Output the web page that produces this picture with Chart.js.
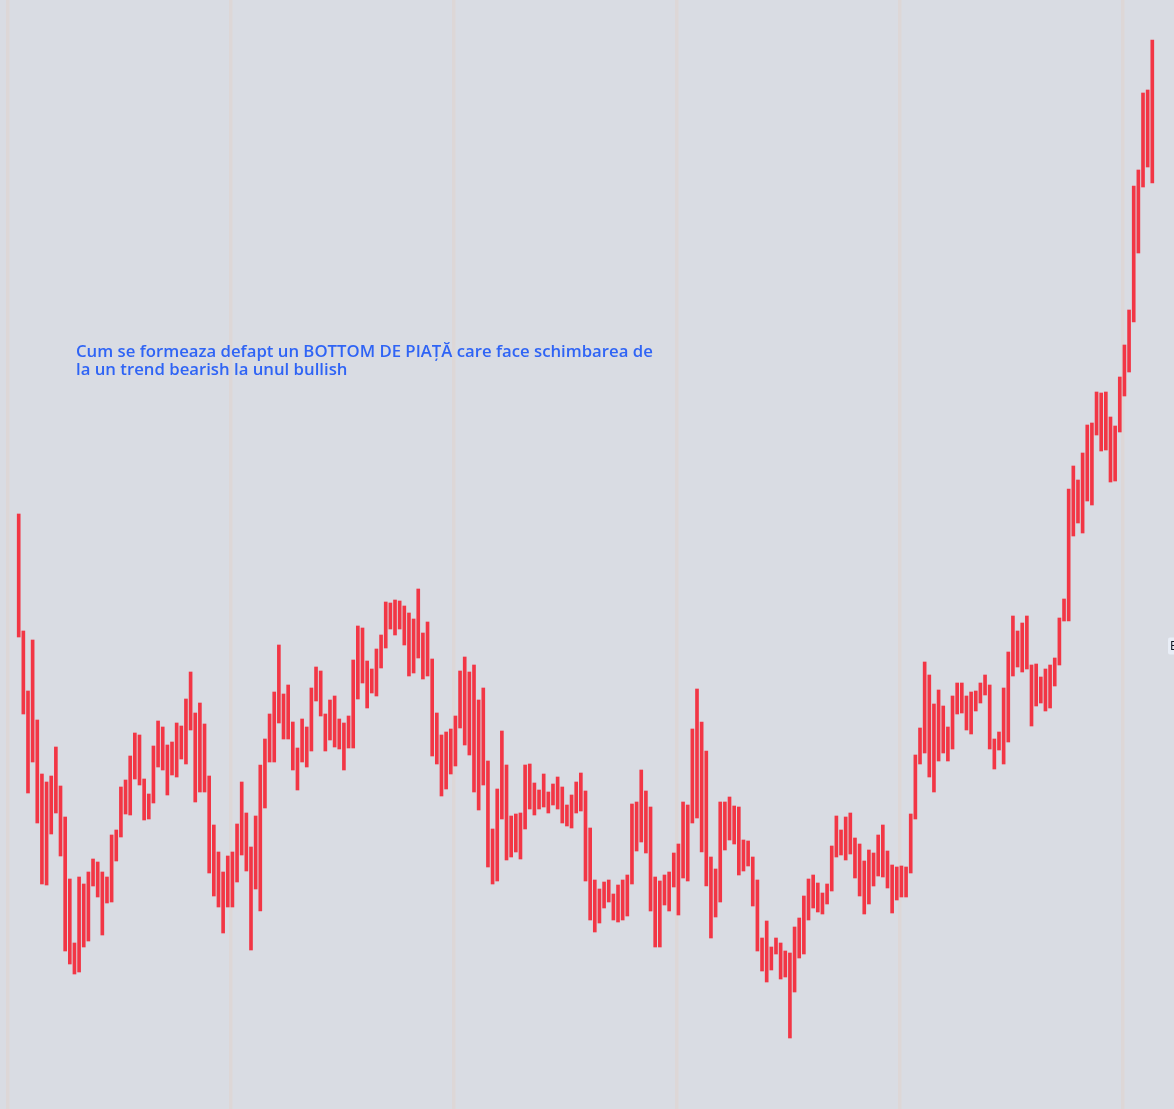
<!DOCTYPE html>
<html>
<head>
<meta charset="utf-8">
<script src="https://cdn.jsdelivr.net/npm/chart.js@4.4.1/dist/chart.umd.min.js"></script>
<style>
html, body { margin: 0; padding: 0; background: #d9dce3; overflow: hidden; }
#wrap { width: 1174px; height: 1109px; position: relative; }
</style>
</head>
<body>
<div id="wrap"><canvas id="c" width="1174" height="1109"></canvas></div>
<script>
// Bar highs and lows (price units)
const highs = [595,478,418,469,389,335,327,333,362,323,292,230,166,232,225,237,250,247,237,232,
274,279,322,329,353,376,374,330,315,363,388,382,364,367,386,383,410,437,396,406,
385,333,284,257,237,253,257,285,327,296,262,293,344,370,395,417,464,415,424,387,
361,390,382,421,442,438,395,409,413,390,386,393,449,483,481,448,440,460,474,507,
506,509,508,503,496,490,520,476,487,450,396,374,377,380,393,438,452,437,444,409,
421,348,280,320,378,344,293,295,296,344,345,326,319,335,317,325,332,322,304,314,
327,336,318,281,229,220,227,229,215,224,229,234,305,307,339,318,302,232,228,234,
237,256,265,307,304,380,420,387,358,252,240,307,307,312,303,302,269,268,252,229,
171,188,162,171,166,158,156,182,191,213,230,234,226,216,225,263,293,279,292,296,
271,265,248,259,256,274,284,258,244,242,243,242,295,354,381,447,434,405,419,403,
382,413,426,426,413,417,418,426,434,424,370,377,421,457,493,478,486,493,444,445,
432,440,444,451,491,510,620,643,629,656,684,686,717,716,717,692,683,732,764,799,
923,939,1016,1019,1069];
const lows = [472,395,316,347,286,225,224,275,296,253,158,145,135,137,162,168,223,212,174,206,
207,248,272,295,294,330,324,289,290,306,342,339,314,334,332,350,345,379,307,317,
317,236,213,202,176,202,202,227,254,238,159,220,198,301,347,347,386,370,370,339,
319,347,342,358,408,393,358,369,362,360,339,361,361,410,426,401,416,413,441,461,
480,474,480,464,433,436,451,430,433,353,345,313,320,335,343,381,364,354,317,299,
324,242,225,228,290,249,252,257,250,280,300,294,300,302,296,304,300,286,283,281,
296,298,228,189,177,186,201,207,189,187,189,193,225,258,267,256,198,162,162,204,
198,222,194,231,228,286,291,257,223,171,192,207,259,269,265,234,238,243,203,158,
138,127,139,155,130,132,71,117,151,155,189,201,197,195,205,218,252,254,249,255,
231,213,195,205,223,233,232,221,196,209,212,212,236,290,345,356,332,317,348,356,
348,360,395,396,379,375,398,406,414,360,340,359,345,367,433,442,437,440,383,403,
406,398,401,423,444,488,488,573,586,576,608,604,674,658,659,627,628,677,713,737,
787,856,922,942,926];
// Bar index of each vertical separator line (time-axis divisions)
const gridAt = [-2.3, 45.7, 93.7, 141.7, 189.7, 237.7];
const noteLines = ["Cum se formeaza defapt un BOTTOM DE PIAȚĂ care face schimbarea de",
                   "la un trend bearish la unul bullish"];
const priceTagValue = 463;
const priceTagText = "B";

const bars = highs.map((h, i) => ({ x: i, y: [lows[i], h] }));

const notePlugin = {
  id: 'note',
  afterDatasetsDraw(chart) {
    const ctx = chart.ctx;
    ctx.save();
    let size = 17;
    const fam = '600 SIZEpx "Open Sans"';
    ctx.font = fam.replace('SIZE', size);
    const w = ctx.measureText(noteLines[0]).width;
    size = size * 577 / w;
    ctx.font = fam.replace('SIZE', size.toFixed(2));
    ctx.fillStyle = '#2f64f5';
    ctx.textBaseline = 'alphabetic';
    ctx.fillText(noteLines[0], 76, 357);
    ctx.fillText(noteLines[1], 76, 375);
    // cut-off price tag at right edge
    const y = chart.scales.y.getPixelForValue(priceTagValue);
    const x = chart.chartArea.right - 6;
    ctx.fillStyle = '#e9eef7';
    ctx.beginPath();
    ctx.roundRect(x, y - 8.5, 24, 17, 2);
    ctx.fill();
    ctx.fillStyle = '#131722';
    ctx.font = '12px "Noto Sans"';
    ctx.textBaseline = 'middle';
    ctx.fillText(priceTagText, x + 2, y + 1);
    ctx.restore();
  }
};

new Chart(document.getElementById('c'), {
  type: 'bar',
  data: {
    datasets: [{
      data: bars,
      backgroundColor: '#f23645',
      borderWidth: 0,
      barThickness: 3,
      grouped: false
    }]
  },
  options: {
    responsive: false,
    animation: false,
    layout: { padding: 0 },
    plugins: { legend: { display: false }, tooltip: { enabled: false } },
    scales: {
      x: {
        type: 'linear',
        offset: false,
        min: -4.025,
        max: 248.67,
        display: true,
        ticks: { display: false },
        border: { display: false },
        grid: { color: '#ddd7d7', lineWidth: 3.5, drawTicks: false, offset: false },
        afterBuildTicks: s => { s.ticks = gridAt.map(v => ({ value: v })); }
      },
      y: {
        min: 0,
        max: 1109,
        display: false
      }
    }
  },
  plugins: [notePlugin]
});
</script>
</body>
</html>
